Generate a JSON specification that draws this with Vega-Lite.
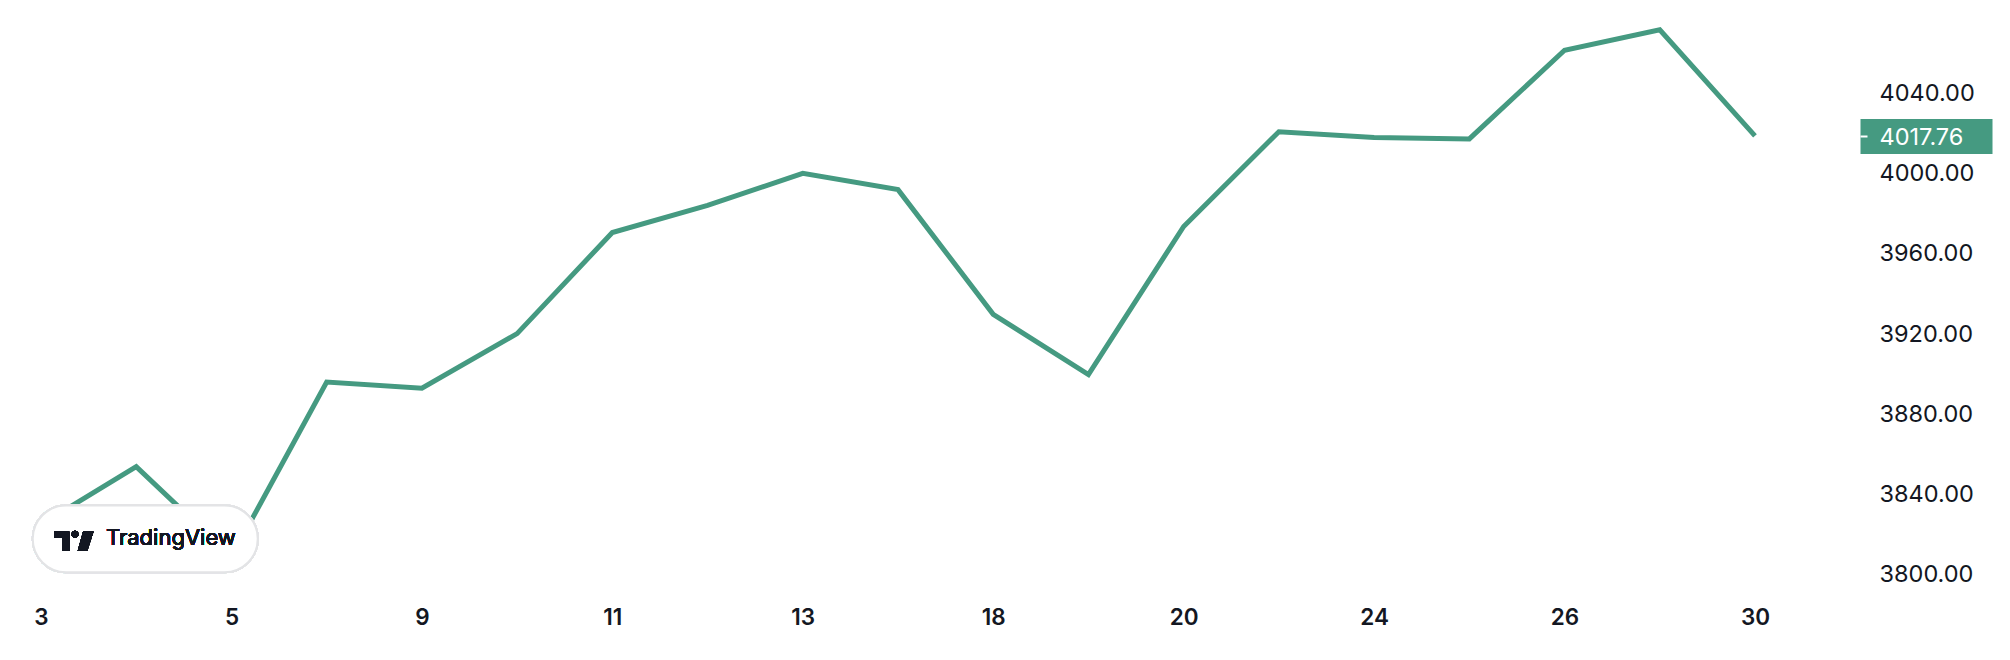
{
  "$schema": "https://vega.github.io/schema/vega-lite/v6.json",
  "width": 1796,
  "height": 600,
  "autosize": "none",
  "padding": {"left": 0, "top": 0, "right": 214, "bottom": 60},
  "background": "white",
  "config": {"view": {"stroke": null}, "font": "Inter"},
  "data": {"values": [
    {"day": "3", "close": 3824.14},
    {"day": "4", "close": 3852.97},
    {"day": "5", "close": 3808.10},
    {"day": "6", "close": 3895.08},
    {"day": "9", "close": 3892.09},
    {"day": "10", "close": 3919.25},
    {"day": "11", "close": 3969.61},
    {"day": "12", "close": 3983.17},
    {"day": "13", "close": 3999.09},
    {"day": "17", "close": 3990.97},
    {"day": "18", "close": 3928.86},
    {"day": "19", "close": 3898.85},
    {"day": "20", "close": 3972.61},
    {"day": "23", "close": 4019.81},
    {"day": "24", "close": 4016.95},
    {"day": "25", "close": 4016.22},
    {"day": "26", "close": 4060.43},
    {"day": "27", "close": 4070.56},
    {"day": "30", "close": 4017.76}
  ]},
  "resolve": {"scale": {"y": "shared", "x": "shared"}, "axis": {"y": "independent", "x": "independent"}},
  "layer": [
    {
      "mark": {"type": "line", "color": "#459A81", "strokeWidth": 5, "strokeJoin": "miter", "strokeCap": "butt"},
      "encoding": {
        "x": {
          "field": "day", "type": "ordinal", "sort": null,
          "scale": {"type": "point", "padding": 0.4307},
          "axis": {
            "values": ["3", "5", "9", "11", "13", "18", "20", "24", "26", "30"],
            "orient": "bottom", "title": null, "domain": false, "ticks": false, "tickSize": 0, "grid": false,
            "labelAngle": 0, "labelFont": "Inter", "labelFontSize": 22.5, "labelFontWeight": 600,
            "labelColor": "#131722", "labelPadding": 17.5, "labelBaseline": "middle", "labelOverlap": false
          }
        },
        "y": {
          "field": "close", "type": "quantitative",
          "scale": {"domain": [3786.55, 4085.43], "nice": false, "zero": false},
          "axis": {
            "orient": "right", "offset": 64, "title": null,
            "values": [3800, 3840, 3880, 3920, 3960, 4000, 4040],
            "format": ".2f", "domain": false, "ticks": false, "tickSize": 0, "grid": false,
            "labelFont": "Inter", "labelFontSize": 23.5, "labelColor": "#131722",
            "labelPadding": 19, "labelOffset": 2, "labelBaseline": "middle", "labelAlign": "left", "labelOverlap": false,
            "zindex": 1
          }
        }
      }
    },
    {
      "mark": {"type": "point", "opacity": 0},
      "encoding": {
        "y": {
          "datum": 4017.76, "type": "quantitative",
          "axis": {
            "orient": "right", "offset": 64, "title": null,
            "values": [4017.76], "format": ".2f", "domain": false, "grid": false,
            "ticks": true, "tickSize": 132, "tickWidth": 35, "tickColor": "#459A81", "tickCap": "butt",
            "labelFont": "Inter", "labelFontSize": 23.5, "labelColor": "#ffffff",
            "labelPadding": -113, "labelOffset": 2, "labelBaseline": "middle", "labelAlign": "left", "labelOverlap": false,
            "zindex": 2
          }
        }
      }
    },
    {
      "mark": {"type": "point", "opacity": 0},
      "encoding": {
        "y": {
          "datum": 4017.76, "type": "quantitative",
          "axis": {
            "orient": "right", "offset": 64, "title": null,
            "values": [4017.76], "domain": false, "grid": false, "labels": false,
            "ticks": true, "tickSize": 7, "tickWidth": 2, "tickColor": "#ffffff",
            "zindex": 3
          }
        }
      }
    },
    {
      "mark": {
        "type": "point", "filled": true, "fill": "#ffffff", "fillOpacity": 1, "opacity": 1,
        "stroke": "#e3e4e6", "strokeWidth": 2, "size": 50625, "xOffset": 9,
        "shape": "M-0.7036,-0.2964 L0.7036,-0.2964 A0.2964,0.2964 0 0 1 0.7036,0.2964 L-0.7036,0.2964 A0.2964,0.2964 0 0 1 -0.7036,-0.2964 Z"
      },
      "encoding": {
        "x": {"datum": "4", "type": "ordinal", "axis": null},
        "y": {"datum": 3817, "type": "quantitative", "axis": null}
      }
    },
    {
      "mark": {
        "type": "point", "filled": true, "fill": "#131722", "opacity": 1, "strokeWidth": 0,
        "size": 1600, "xOffset": -62.45, "yOffset": 2.3,
        "shape": "M-0.9875,-0.475 L-0.2225,-0.475 L-0.2225,0.475 L-0.5875,0.475 L-0.5875,-0.195 L-0.9875,-0.195 Z M-0.1175,-0.345 A0.18,0.18 0 1 0 0.2425,-0.345 A0.18,0.18 0 1 0 -0.1175,-0.345 Z M0.4625,-0.475 L0.9875,-0.475 L0.6775,0.475 L0.1975,0.475 Z"
      },
      "encoding": {
        "x": {"datum": "4", "type": "ordinal", "axis": null},
        "y": {"datum": 3817, "type": "quantitative", "axis": null}
      }
    },
    {
      "mark": {
        "type": "text", "text": "TradingView", "font": "Inter", "fontSize": 22, "fontWeight": 400,
        "color": "#131722", "align": "left", "baseline": "alphabetic", "dx": -30.2, "dy": 6.1
      },
      "encoding": {
        "x": {"datum": "4", "type": "ordinal", "axis": null},
        "y": {"datum": 3817, "type": "quantitative", "axis": null}
      }
    }
  ]
}
